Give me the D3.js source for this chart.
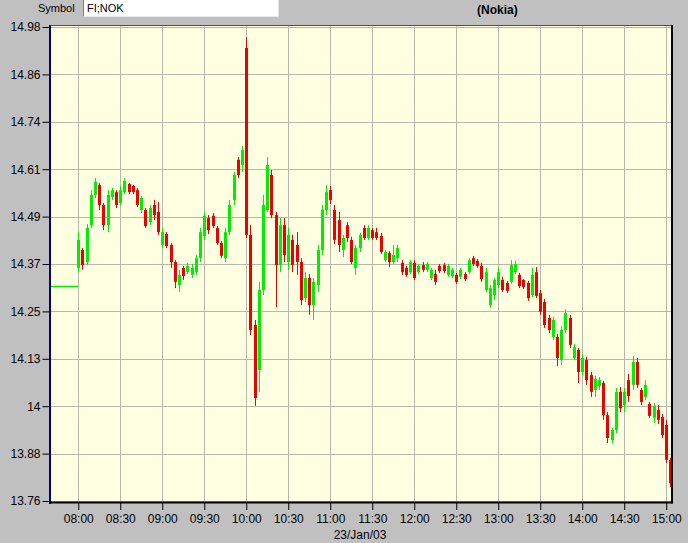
<!DOCTYPE html>
<html><head><meta charset="utf-8">
<script src="https://cdn.jsdelivr.net/npm/d3@7"></script>
<style>
html,body{margin:0;padding:0;background:#c0c0c0;}
svg{display:block;font-family:"Liberation Sans",Arial,sans-serif;}
</style></head>
<body>
<svg id="chart" width="688" height="543"></svg>
<script>
// ---------- data ----------
const symbol = "FI;NOK";
const title = "(Nokia)";
const dateLabel = "23/Jan/03";
const prevClose = 14.313;

const times = [
"08:00","08:03","08:06","08:09","08:12","08:15","08:18","08:21","08:24","08:27","08:30","08:33","08:36","08:39","08:42","08:45","08:48","08:51","08:54","08:57",
"09:00","09:03","09:06","09:09","09:12","09:15","09:18","09:21","09:24","09:27","09:30","09:33","09:36","09:39","09:42","09:45","09:48","09:51","09:54","09:57",
"10:00","10:03","10:06","10:09","10:12","10:15","10:18","10:21","10:24","10:27","10:30","10:33","10:36","10:39","10:42","10:45","10:48","10:51","10:54","10:57",
"11:00","11:03","11:06","11:09","11:12","11:15","11:18","11:21","11:24","11:27","11:30","11:33","11:36","11:39","11:42","11:45","11:48","11:51","11:54","11:57",
"12:00","12:03","12:06","12:09","12:12","12:15","12:18","12:21","12:24","12:27","12:30","12:33","12:36","12:39","12:42","12:45","12:48","12:51","12:54","12:57",
"13:00","13:03","13:06","13:09","13:12","13:15","13:18","13:21","13:24","13:27","13:30","13:33","13:36","13:39","13:42","13:45","13:48","13:51","13:54","13:57",
"14:00","14:03","14:06","14:09","14:12","14:15","14:18","14:21","14:24","14:27","14:30","14:33","14:36","14:39","14:42","14:45","14:48","14:51","14:54","14:57",
"15:00","15:03"];

const open = [
14.360,14.406,14.375,14.470,14.548,14.573,14.522,14.470,14.542,14.555,
14.527,14.555,14.576,14.571,14.560,14.509,14.509,14.478,14.522,14.504,
14.419,14.447,14.419,14.375,14.316,14.360,14.349,14.342,14.349,14.385,
14.442,14.488,14.494,14.463,14.424,14.385,14.452,14.535,14.638,14.625,
14.926,14.445,14.213,14.097,14.303,14.509,14.599,14.496,14.367,14.470,
14.375,14.432,14.419,14.375,14.282,14.334,14.264,14.316,14.406,14.509,
14.560,14.509,14.483,14.406,14.470,14.432,14.360,14.411,14.463,14.437,
14.457,14.452,14.442,14.380,14.398,14.375,14.385,14.373,14.360,14.349,
14.373,14.349,14.367,14.355,14.334,14.344,14.365,14.367,14.342,14.339,
14.342,14.337,14.344,14.349,14.385,14.378,14.365,14.303,14.264,14.290,
14.316,14.329,14.321,14.324,14.349,14.342,14.329,14.321,14.290,14.349,
14.295,14.272,14.231,14.182,14.182,14.123,14.200,14.231,14.128,14.149,
14.092,14.123,14.084,14.046,14.056,14.064,13.981,13.917,13.943,14.041,
14.007,14.071,14.059,14.118,14.046,14.028,14.010,13.974,13.994,13.976,
13.956,13.866];

const high = [
14.452,14.411,14.473,14.560,14.591,14.578,14.527,14.560,14.566,14.560,
14.571,14.591,14.578,14.573,14.566,14.545,14.514,14.522,14.535,14.530,
14.463,14.452,14.424,14.380,14.355,14.365,14.373,14.370,14.393,14.463,
14.504,14.496,14.501,14.468,14.429,14.463,14.535,14.607,14.645,14.674,
14.954,14.470,14.226,14.324,14.548,14.645,14.612,14.504,14.488,14.488,
14.463,14.445,14.452,14.385,14.349,14.344,14.334,14.419,14.522,14.573,
14.571,14.522,14.504,14.445,14.478,14.440,14.419,14.450,14.470,14.470,
14.463,14.463,14.450,14.406,14.403,14.419,14.419,14.380,14.365,14.380,
14.380,14.370,14.375,14.375,14.360,14.355,14.370,14.373,14.370,14.360,
14.347,14.360,14.349,14.385,14.391,14.383,14.373,14.360,14.316,14.334,
14.360,14.337,14.326,14.380,14.378,14.347,14.331,14.326,14.360,14.362,
14.303,14.280,14.239,14.234,14.190,14.210,14.253,14.239,14.164,14.154,
14.138,14.131,14.092,14.082,14.079,14.069,13.989,13.948,14.051,14.053,
14.051,14.087,14.133,14.128,14.051,14.071,14.015,14.012,14.007,13.984,
13.969,13.871];

const low = [
14.349,14.355,14.367,14.463,14.540,14.509,14.457,14.452,14.535,14.514,
14.522,14.550,14.550,14.550,14.517,14.501,14.463,14.470,14.483,14.445,
14.411,14.411,14.360,14.308,14.298,14.329,14.344,14.334,14.342,14.375,
14.432,14.447,14.463,14.419,14.385,14.375,14.445,14.522,14.591,14.607,
14.437,14.187,14.005,14.041,14.290,14.504,14.488,14.259,14.349,14.375,
14.355,14.349,14.342,14.264,14.272,14.239,14.226,14.298,14.393,14.496,
14.524,14.421,14.401,14.388,14.427,14.370,14.342,14.401,14.432,14.432,
14.432,14.432,14.396,14.375,14.362,14.370,14.375,14.342,14.337,14.344,
14.329,14.344,14.349,14.349,14.329,14.316,14.347,14.347,14.337,14.334,
14.319,14.331,14.326,14.344,14.365,14.360,14.324,14.298,14.257,14.277,
14.308,14.298,14.295,14.319,14.344,14.308,14.306,14.275,14.285,14.282,
14.239,14.205,14.192,14.174,14.107,14.110,14.192,14.154,14.123,14.064,
14.084,14.059,14.028,14.028,14.046,13.969,13.909,13.909,13.935,13.989,
13.989,14.015,14.046,14.051,14.007,14.020,13.974,13.961,13.958,13.922,
13.858,13.796];

const close = [
14.432,14.367,14.463,14.548,14.581,14.522,14.470,14.548,14.560,14.522,
14.560,14.584,14.555,14.555,14.522,14.540,14.468,14.514,14.496,14.452,
14.452,14.416,14.375,14.324,14.342,14.339,14.365,14.360,14.385,14.452,
14.494,14.457,14.468,14.424,14.391,14.452,14.522,14.599,14.599,14.663,
14.445,14.200,14.025,14.303,14.522,14.625,14.496,14.367,14.470,14.393,
14.445,14.367,14.375,14.277,14.334,14.264,14.324,14.406,14.509,14.555,
14.535,14.432,14.419,14.437,14.437,14.375,14.411,14.445,14.437,14.463,
14.437,14.437,14.401,14.401,14.375,14.393,14.411,14.349,14.342,14.375,
14.334,14.365,14.355,14.370,14.355,14.324,14.352,14.352,14.365,14.355,
14.324,14.355,14.331,14.380,14.370,14.365,14.331,14.349,14.308,14.329,
14.349,14.303,14.301,14.367,14.370,14.313,14.311,14.282,14.342,14.288,
14.247,14.213,14.200,14.226,14.128,14.200,14.244,14.162,14.156,14.092,
14.128,14.071,14.041,14.074,14.071,13.981,13.922,13.943,14.041,13.999,
14.041,14.030,14.118,14.059,14.015,14.059,13.979,14.005,13.969,13.930,
13.866,13.806];

const yTickValues = [13.76,13.882,14.004,14.126,14.248,14.37,14.492,14.614,14.736,14.858,14.98];
const yTickLabels = ["13.76","13.88","14","14.13","14.25","14.37","14.49","14.61","14.74","14.86","14.98"];
const xTickLabels = ["08:00","08:30","09:00","09:30","10:00","10:30","11:00","11:30","12:00","12:30","13:00","13:30","14:00","14:30","15:00"];

// ---------- layout ----------
const svg = d3.select("#chart");
const W = 688, H = 543;
const plot = {left: 51, right: 671, top: 26, bottom: 502};
const parseT = d3.timeParse("%Y-%m-%d %H:%M:%S");
const day = "2003-01-23 ";
const tStart = parseT(day + "07:39:48"), tEnd = parseT(day + "15:03:24");
const parseHM = s => parseT(day + s + ":00");

const x = d3.scaleTime().domain([tStart, tEnd]).range([50, 671]);
const y = d3.scaleLinear().domain([13.76, 14.98]).range([501, 27]);

const COL_UP = "#00ee00", COL_DN = "#ee0000";

svg.append("rect").attr("width", W).attr("height", H).attr("fill", "#c0c0c0");

// top bar
svg.append("text").attr("x", 38).attr("y", 12).attr("font-size", 11).attr("fill", "#000").text("Symbol");
svg.append("rect").attr("x", 83.5).attr("y", -1).attr("width", 195).attr("height", 17.5)
  .attr("fill", "#fff");
svg.append("path").attr("d", "M83.5,16.5 V0").attr("stroke", "#808080").attr("fill", "none");
svg.append("path").attr("d", "M83.5,16.5 H278.5 V0").attr("stroke", "#e8e8e8").attr("fill", "none");
svg.append("text").attr("x", 87).attr("y", 12).attr("font-size", 11).attr("fill", "#000").text(symbol);
svg.append("text").attr("x", 477).attr("y", 14).attr("font-size", 12).attr("font-weight", "bold")
  .attr("fill", "#000").text(title);

// plot background
svg.append("rect").attr("x", plot.left).attr("y", plot.top)
  .attr("width", plot.right - plot.left).attr("height", plot.bottom - plot.top)
  .attr("fill", "#ffffe1");

// grid
const gridCol = "#b8b8a8";
const g = svg.append("g");
xTickLabels.forEach(s => {
  const xx = Math.round(x(parseHM(s))) + 0.5;
  g.append("line").attr("x1", xx).attr("x2", xx).attr("y1", plot.top).attr("y2", plot.bottom)
    .attr("stroke", gridCol);
});
yTickValues.forEach(v => {
  const yy = Math.round(y(v)) + 0.5;
  g.append("line").attr("x1", plot.left).attr("x2", plot.right).attr("y1", yy).attr("y2", yy)
    .attr("stroke", gridCol);
});

// clip
svg.append("clipPath").attr("id", "clip").append("rect")
  .attr("x", plot.left).attr("y", plot.top)
  .attr("width", plot.right - plot.left).attr("height", plot.bottom - plot.top);

const data = times.map((t, i) => ({t: parseHM(t), o: open[i], h: high[i], l: low[i], c: close[i]}));

const cg = svg.append("g").attr("clip-path", "url(#clip)");

// previous close line before 08:00
cg.append("line").attr("x1", x(tStart)).attr("x2", x(parseHM("08:00")))
  .attr("y1", Math.round(y(prevClose)) + 0.5).attr("y2", Math.round(y(prevClose)) + 0.5)
  .attr("stroke", COL_UP).attr("stroke-width", 1.5);

const candles = cg.selectAll("g.c").data(data).join("g").attr("class", "c");
candles.append("line")
  .attr("x1", d => Math.round(x(d.t)) + 0.5).attr("x2", d => Math.round(x(d.t)) + 0.5)
  .attr("y1", d => y(d.h)).attr("y2", d => y(d.l))
  .attr("stroke", d => d.c >= d.o ? COL_UP : COL_DN).attr("stroke-width", 1);
candles.append("rect")
  .attr("x", d => Math.round(x(d.t)) - 1)
  .attr("y", d => y(Math.max(d.o, d.c)))
  .attr("width", 3)
  .attr("height", d => Math.max(1, Math.abs(y(d.o) - y(d.c))))
  .attr("fill", d => d.c >= d.o ? COL_UP : COL_DN);

// borders
svg.append("line").attr("x1", plot.left - 1).attr("x2", plot.right + 2).attr("y1", 25.5).attr("y2", 25.5)
  .attr("stroke", "#505050").attr("stroke-width", 1);
svg.append("line").attr("x1", 50).attr("x2", 50).attr("y1", 25).attr("y2", 504)
  .attr("stroke", "#000080").attr("stroke-width", 2);
svg.append("line").attr("x1", 49).attr("x2", 673).attr("y1", 502.5).attr("y2", 502.5)
  .attr("stroke", "#000").attr("stroke-width", 2);
svg.append("line").attr("x1", 672).attr("x2", 672).attr("y1", 25).attr("y2", 503.5)
  .attr("stroke", "#000").attr("stroke-width", 2);

// y axis
const yAxis = d3.axisLeft(y).tickValues(yTickValues)
  .tickFormat((d, i) => yTickLabels[i]).tickSize(7).tickPadding(2);
const ya = svg.append("g").attr("transform", "translate(49.5,0)").call(yAxis);
ya.select(".domain").remove();
ya.selectAll(".tick line").attr("stroke", "#000");
ya.selectAll(".tick text").attr("font-size", 12).attr("fill", "#000")
  .attr("font-family", "'Liberation Sans',Arial,sans-serif");

// x axis
const xAxis = d3.axisBottom(x).tickValues(xTickLabels.map(parseHM))
  .tickFormat((d, i) => xTickLabels[i]).tickSize(7).tickPadding(4);
const xa = svg.append("g").attr("transform", "translate(0,503)").call(xAxis);
xa.select(".domain").remove();
xa.selectAll(".tick line").attr("stroke", "#000");
xa.selectAll(".tick text").attr("font-size", 12).attr("fill", "#000")
  .attr("font-family", "'Liberation Sans',Arial,sans-serif");

svg.append("text").attr("x", 360).attr("y", 539).attr("text-anchor", "middle")
  .attr("font-size", 12).attr("fill", "#000").text(dateLabel);
</script>
</body></html>
